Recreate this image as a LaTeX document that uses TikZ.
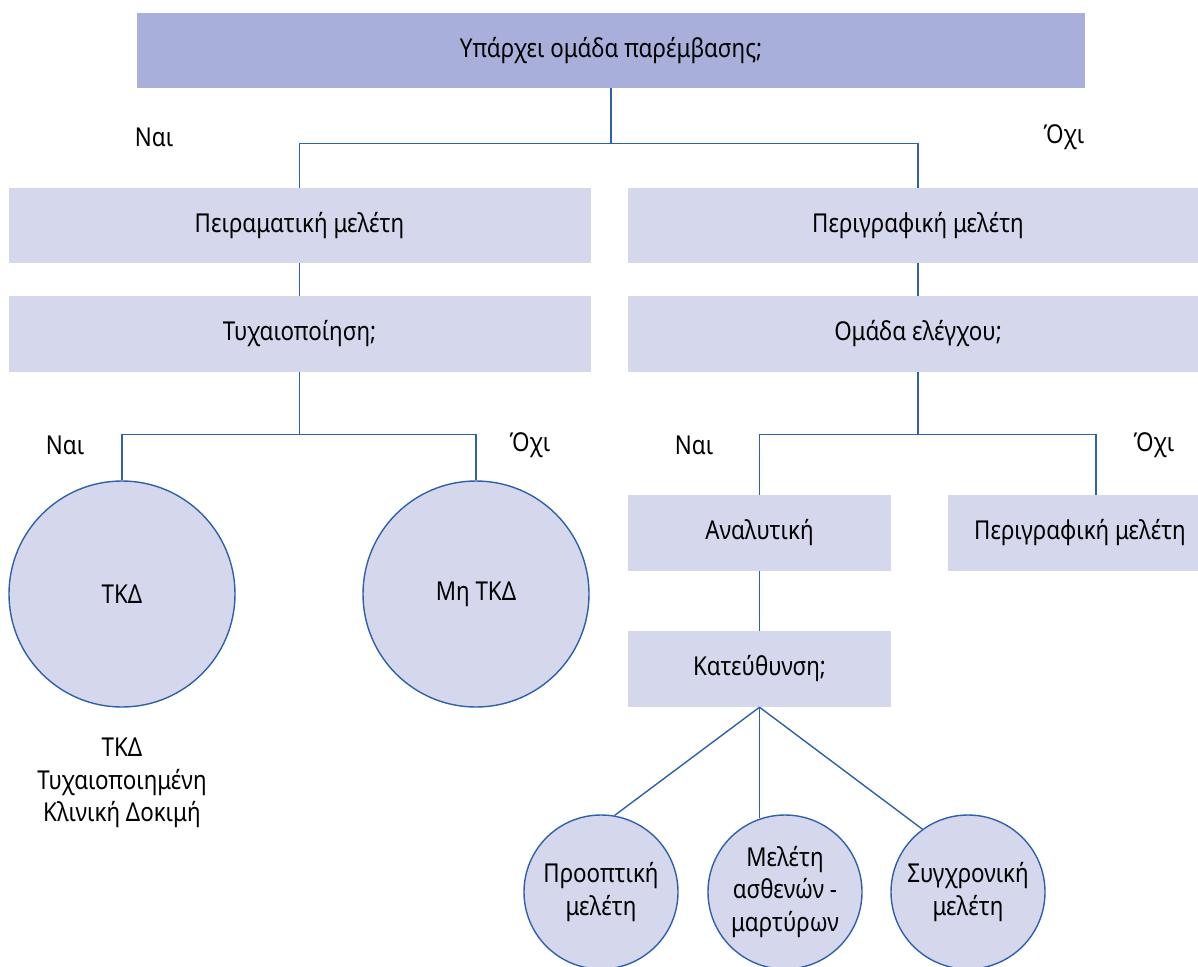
\documentclass[tikz,border=0pt]{standalone}
\usepackage{fontspec}
\setmainfont{Noto Sans}[FakeStretch=0.86]
\definecolor{headfill}{HTML}{A9AFDB}
\definecolor{boxfill}{HTML}{D5D8EC}
\definecolor{linkblue}{HTML}{2F60AC}
\begin{document}
\begin{tikzpicture}[x=1pt,y=-1pt,
  every node/.style={font=\fontsize{26}{32.5}\selectfont, text=black, inner sep=0pt},
  headbox/.style={rectangle, fill=headfill, minimum height=75pt},
  qbox/.style={rectangle, fill=boxfill, minimum height=76pt},
  bigcirc/.style={circle, fill=boxfill, draw=linkblue, line width=1.4pt, minimum size=226pt},
  smallcirc/.style={circle, fill=boxfill, draw=linkblue, line width=1.4pt, minimum size=154pt, align=center},
  link/.style={draw=linkblue, line width=1.4pt},
  answer/.style={}]
\clip (0,0) rectangle (1198,966);
\fill[white] (0,0) rectangle (1198,966);

% top question
\node[headbox, minimum width=948pt] (top) at (611,50.5) {Υπάρχει ομάδα παρέμβασης;};

% second and third rows
\node[qbox, minimum width=582pt, minimum height=75pt] (exp) at (299.5,225.5) {Πειραματική μελέτη};
\node[qbox, minimum width=580pt, minimum height=75pt] (desc) at (918,225.5) {Περιγραφική μελέτη};
\node[qbox, minimum width=582pt] (rand) at (299.5,334) {Τυχαιοποίηση;};
\node[qbox, minimum width=580pt] (ctrl) at (918,334) {Ομάδα ελέγχου;};

% randomisation outcome
\node[bigcirc] (rct) at (122,594) {ΤΚΔ};
\node[bigcirc] (nrct) at (476,594) {Μη ΤΚΔ};
\node[align=center] (rctnote) at (122,783) {ΤΚΔ\\Τυχαιοποιημένη\\Κλινική Δοκιμή};

% control group outcome
\node[qbox, minimum width=263pt] (anal) at (759.5,533) {Αναλυτική};
\node[qbox, minimum width=264pt] (desc2) at (1080,533) {Περιγραφική μελέτη};
\node[qbox, minimum width=263pt] (dir) at (759.5,669) {Κατεύθυνση;};

% study directions
\node[smallcirc] (pro) at (601,892) {Προοπτική\\μελέτη};
\node[smallcirc] (cc) at (785,892) {Μελέτη\\ασθενών -\\μαρτύρων};
\node[smallcirc] (cs) at (968,892) {Συγχρονική\\μελέτη};

% yes / no labels
\node[answer] (y1) at (154,137) {Ναι};
\node[answer] (n1) at (1064,137) {Όχι};
\node[answer] (y2) at (65,445) {Ναι};
\node[answer] (n2) at (530,445) {Όχι};
\node[answer] (y3) at (694,445) {Ναι};
\node[answer] (n3) at (1154,445) {Όχι};

% connectors
\draw[link] (top.south) -- ++(0,55) coordinate (j1);
\draw[link] (exp.north) |- (j1) -| (desc.north);
\draw[link] (exp.south) -- (rand.north);
\draw[link] (desc.south) -- (ctrl.north);
\draw[link] (rand.south) -- ++(0,62) coordinate (j2);
\draw[link] (rct.north) |- (j2) -| (nrct.north);
\draw[link] (ctrl.south) -- ++(0,62) coordinate (j3);
\draw[link] (anal.north) |- (j3) -| ([xshift=16pt]desc2.north);
\draw[link] (anal.south) -- (dir.north);
\draw[link] (dir.south) -- (pro.80);
\draw[link] (dir.south) -- (dir.south |- cc.108);
\draw[link] (dir.south) -- (cs.126);
\end{tikzpicture}
\end{document}
